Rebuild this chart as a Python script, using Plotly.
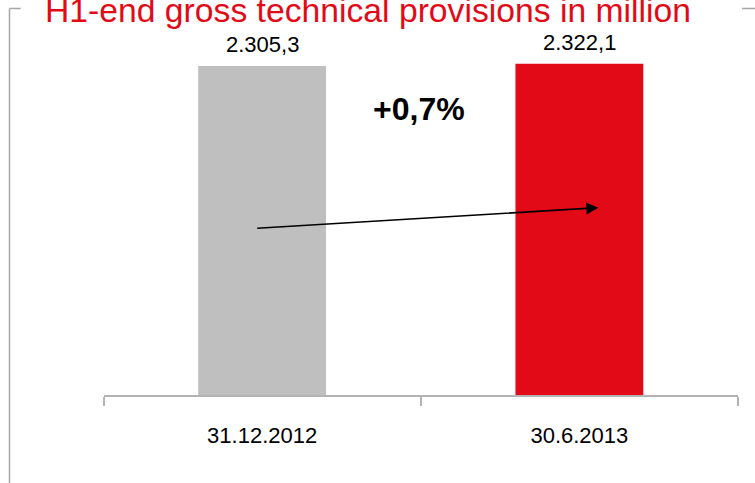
import plotly.graph_objects as go

W, H = 755, 483

categories = ["31.12.2012", "30.6.2013"]
values = [2305.3, 2322.1]
value_labels = ["2.305,3", "2.322,1"]
bar_colors = ["#BFBFBF", "#E30A17"]
title_text = "H1-end gross technical provisions in million"
change_text = "+0,7%"

def px_x(p):
    return p / W

def px_y(p):
    return 1 - p / H

fig = go.Figure()
fig.add_trace(go.Bar(
    x=categories, y=values, marker=dict(color=bar_colors, line=dict(width=0)),
    width=0.403, hoverinfo="skip",
))

for c, v, t in zip(categories, values, value_labels):
    fig.add_annotation(x=c, y=v, xref="x", yref="y", text=t, showarrow=False,
                       yanchor="bottom", yshift=7,
                       font=dict(family="Liberation Sans, Arial, sans-serif", size=22, color="#000000"))

# title (partially cut at top, as in the original)
fig.add_annotation(x=px_x(43), y=px_y(31), xref="paper", yref="paper", text=title_text,
                   showarrow=False, xanchor="left", yanchor="bottom",
                   font=dict(family="Liberation Sans, Arial, sans-serif", size=33.7, color="#E30A17"))

# change label
fig.add_annotation(x=px_x(419), y=px_y(109), xref="paper", yref="paper", text="<b>" + change_text + "</b>",
                   showarrow=False, xanchor="center", yanchor="middle",
                   font=dict(family="Liberation Sans, Arial, sans-serif", size=32, color="#000000"))

# arrow
fig.add_annotation(x=px_x(598.3), y=px_y(207.7), xref="paper", yref="paper", text="",
                   showarrow=True, ax=255.7 - 598.3, ay=228.3 - 207.7,
                   arrowhead=2, arrowsize=1.5, arrowwidth=1.6, arrowcolor="#000000",
                   standoff=0, startstandoff=0)

# frame lines
frame_color = "#A6A6A6"
fig.add_shape(type="line", xref="paper", yref="paper", x0=px_x(9.5), x1=px_x(9.5), y0=px_y(8.5), y1=0,
              line=dict(color=frame_color, width=1.5))
fig.add_shape(type="line", xref="paper", yref="paper", x0=px_x(9.5), x1=px_x(20.7), y0=px_y(8.5), y1=px_y(8.5),
              line=dict(color=frame_color, width=1.5))
fig.add_shape(type="line", xref="paper", yref="paper", x0=px_x(742), x1=1, y0=px_y(8.5), y1=px_y(8.5),
              line=dict(color=frame_color, width=1.5))

fig.update_layout(
    width=W, height=H,
    margin=dict(l=0, r=0, t=0, b=0, pad=0),
    paper_bgcolor="white", plot_bgcolor="white",
    showlegend=False,
    xaxis=dict(domain=[px_x(103.5), px_x(738)], range=[-0.5, 1.5], type="category",
               showline=True, linecolor="#B3B3B3", linewidth=1.5,
               ticks="outside", tickson="boundaries", ticklen=9, tickcolor="#B3B3B3", tickwidth=1.5,
               showgrid=False, zeroline=False, ticklabelstandoff=20, fixedrange=True,
               tickfont=dict(family="Liberation Sans, Arial, sans-serif", size=22, color="#000000")),
    yaxis=dict(domain=[px_y(395), px_y(30)], range=[0, 2558], visible=False, showgrid=False,
               fixedrange=True),
)

fig.write_html("out.html", config={"displayModeBar": False},
               post_script="document.body.style.margin='0';document.body.style.padding='0';")
